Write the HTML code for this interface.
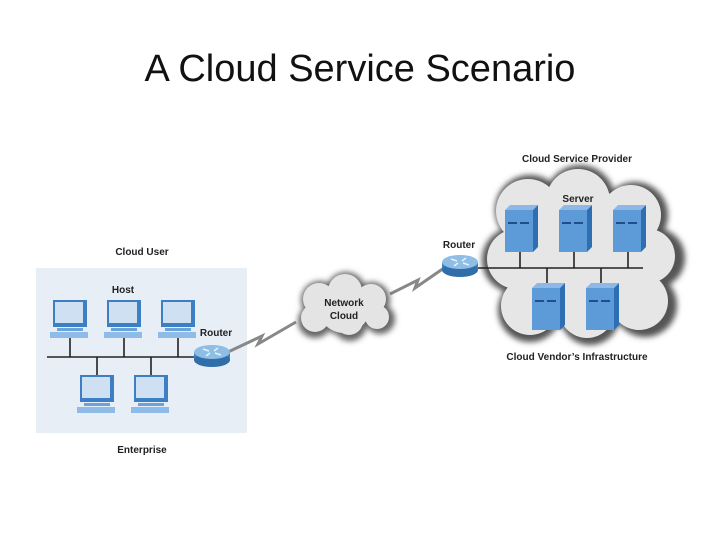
<!DOCTYPE html>
<html><head><meta charset="utf-8"><style>
html,body{margin:0;padding:0;background:#fff;width:720px;height:540px;overflow:hidden}
svg text{font-family:"Liberation Sans",sans-serif}
.l{font-weight:bold;font-size:10px;fill:#222;text-anchor:middle}
</style></head><body>
<svg width="720" height="540" viewBox="0 0 720 540" xmlns="http://www.w3.org/2000/svg">
<defs>
<filter id="bl" x="-20%" y="-20%" width="140%" height="140%"><feGaussianBlur stdDeviation="3"/></filter>
<g id="pc">
  <rect x="-17" y="-30" width="34" height="27" fill="#3d7fc4"/>
  <rect x="-15" y="-28" width="28" height="21" fill="#cfe0f3"/>
  <rect x="-13" y="-2" width="26" height="3" fill="#6aa2dc"/>
  <rect x="-20" y="2" width="38" height="6" fill="#8fbbe8"/>
</g>
<g id="srv">
  <polygon points="-15,-18 -10,-23 18,-23 13,-18" fill="#8fb8e6"/>
  <polygon points="13,-18 18,-23 18,19 13,24" fill="#2e6fb3"/>
  <rect x="-15" y="-18" width="28" height="42" fill="#5c9ad8"/>
  <rect x="-12" y="-6" width="9" height="2" fill="#1f4f8a"/>
  <rect x="0" y="-6" width="9" height="2" fill="#1f4f8a"/>
</g>
<g id="rtr">
  <rect x="-18" y="-4" width="36" height="8" fill="#3f82c0"/>
  <ellipse cx="0" cy="4" rx="18" ry="7" fill="#2f6ea8"/>
  <ellipse cx="0" cy="-4" rx="18" ry="7" fill="#8ebde6"/>
  <path d="M-9,-7 L-3,-5 M9,-1 L3,-3 M-6,0 L-2,-3 M6,-8 L2,-5" stroke="#e8f2fb" stroke-width="1.5"/>
</g>
</defs>

<text x="360" y="81" font-size="38" text-anchor="middle" fill="#111" style="font-family:'Liberation Sans',sans-serif">A Cloud Service Scenario</text>

<!-- Enterprise -->
<rect x="36" y="268" width="211" height="165" fill="#e8eef6"/>
<text class="l" x="142" y="255">Cloud User</text>
<text class="l" x="123" y="293">Host</text>
<text class="l" x="216" y="336">Router</text>
<text class="l" x="142" y="453">Enterprise</text>
<g stroke="#222" stroke-width="1.6">
<line x1="47" y1="357" x2="200" y2="357"/>
<line x1="70" y1="337" x2="70" y2="357"/><line x1="124" y1="337" x2="124" y2="357"/><line x1="178" y1="337" x2="178" y2="357"/>
<line x1="97" y1="357" x2="97" y2="375"/><line x1="151" y1="357" x2="151" y2="375"/>
</g>
<use href="#pc" x="70" y="330"/><use href="#pc" x="124" y="330"/><use href="#pc" x="178" y="330"/>
<use href="#pc" x="97" y="405"/><use href="#pc" x="151" y="405"/>

<!-- links -->
<polyline points="228,352 262,336 258,344 296,322" fill="none" stroke="#888" stroke-width="3"/>
<polyline points="390,294 418,280 415,288 444,268" fill="none" stroke="#888" stroke-width="3"/>
<use href="#rtr" x="212" y="356"/>

<!-- network cloud -->
<g fill="#666" filter="url(#bl)">
<circle cx="320" cy="300" r="19"/><circle cx="346" cy="292" r="20"/><circle cx="372" cy="300" r="18"/><circle cx="380" cy="319" r="15"/><circle cx="350" cy="324" r="17"/><circle cx="315" cy="321" r="17"/><circle cx="345" cy="308" r="28"/>
</g>
<g fill="#e4e4e4">
<circle cx="319" cy="299" r="16"/><circle cx="345" cy="291" r="17"/><circle cx="371" cy="299" r="15"/><circle cx="377" cy="317" r="12"/><circle cx="349" cy="321" r="14"/><circle cx="315" cy="318" r="14"/><circle cx="344" cy="307" r="26"/>
</g>
<text class="l" x="344" y="306">Network</text>
<text class="l" x="344" y="319">Cloud</text>

<!-- provider cloud -->
<g fill="#555" filter="url(#bl)">
<circle cx="530" cy="210" r="35"/><circle cx="580" cy="200" r="35"/><circle cx="635" cy="215" r="33"/><circle cx="655" cy="258" r="30"/><circle cx="645" cy="305" r="32"/><circle cx="590" cy="315" r="30"/><circle cx="530" cy="310" r="32"/><circle cx="515" cy="260" r="33"/><circle cx="580" cy="258" r="72"/>
</g>
<g fill="#e6e6e6">
<circle cx="528" cy="211" r="32"/><circle cx="578" cy="201" r="32"/><circle cx="631" cy="215" r="30"/><circle cx="648" cy="256" r="27"/><circle cx="639" cy="301" r="29"/><circle cx="587" cy="310" r="28"/><circle cx="530" cy="306" r="29"/><circle cx="517" cy="259" r="30"/><circle cx="578" cy="256" r="70"/>
</g>
<text class="l" x="577" y="162">Cloud Service Provider</text>
<text class="l" x="578" y="202">Server</text>
<text class="l" x="459" y="248">Router</text>
<text class="l" x="577" y="360">Cloud Vendor’s Infrastructure</text>
<g stroke="#222" stroke-width="1.6">
<line x1="475" y1="268" x2="643" y2="268"/>
<line x1="520" y1="250" x2="520" y2="268"/><line x1="574" y1="250" x2="574" y2="268"/><line x1="628" y1="250" x2="628" y2="268"/>
<line x1="547" y1="268" x2="547" y2="286"/><line x1="601" y1="268" x2="601" y2="286"/>
</g>
<use href="#srv" x="520" y="228"/><use href="#srv" x="574" y="228"/><use href="#srv" x="628" y="228"/>
<use href="#srv" x="547" y="306"/><use href="#srv" x="601" y="306"/>
<use href="#rtr" x="460" y="266"/>
</svg>
</body></html>
